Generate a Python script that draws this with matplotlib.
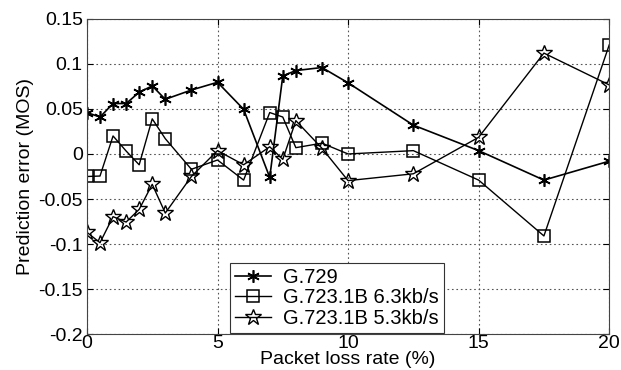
import matplotlib
matplotlib.use("Agg")
import matplotlib.pyplot as plt
from matplotlib.ticker import FuncFormatter

plt.rcParams['font.family'] = ['Liberation Sans', 'DejaVu Sans']

x_g729 = [0, 0.5, 1, 1.5, 2, 2.5, 3, 4, 5, 6, 7, 7.5, 8, 9, 10, 12.5, 15, 17.5, 20]
y_g729 = [0.046, 0.041, 0.056, 0.056, 0.0685, 0.0756, 0.0607, 0.071, 0.0796, 0.0496,
          -0.026, 0.0867, 0.0926, 0.096, 0.079, 0.032, 0.0037, -0.029, -0.008]

x_g63 = [0, 0.5, 1, 1.5, 2, 2.5, 3, 4, 5, 6, 7, 7.5, 8, 9, 10, 12.5, 15, 17.5, 20]
y_g63 = [-0.025, -0.0245, 0.020, 0.0033, -0.012, 0.039, 0.017, -0.017, -0.0067, -0.029,
         0.046, 0.041, 0.007, 0.012, 0.0, 0.0037, -0.029, -0.091, 0.121]

x_g53 = [0, 0.5, 1, 1.5, 2, 2.5, 3, 4, 5, 6, 7, 7.5, 8, 9, 10, 12.5, 15, 17.5, 20]
y_g53 = [-0.087, -0.0985, -0.0696, -0.0756, -0.0615, -0.0337, -0.0656, -0.025, 0.0037, -0.012,
         0.008, -0.006, 0.037, 0.0063, -0.0296, -0.022, 0.0185, 0.112, 0.0767]

labels = ['G.729', 'G.723.1B 6.3kb/s', 'G.723.1B 5.3kb/s']
x_ticks = [0, 5, 10, 15, 20]
y_ticks = [-0.2, -0.15, -0.1, -0.05, 0, 0.05, 0.1, 0.15]

FS = 14

fig = plt.figure(figsize=(6.21, 3.70), dpi=100)
ax = fig.add_axes([0.140, 0.097, 0.841, 0.852])

ax.plot(x_g729, y_g729, color='black', lw=1.2, marker=(6, 2, 0), ms=9, mew=1.2,
        label=labels[0])
ax.plot(x_g63, y_g63, color='black', lw=1.0, marker='s', ms=9, mfc='none', mew=1.1,
        label=labels[1])
ax.plot(x_g53, y_g53, color='black', lw=1.0, marker='*', ms=12, mfc='none', mew=1.0,
        label=labels[2])

ax.set_xlim(0, 20)
ax.set_ylim(-0.2, 0.15)
ax.set_xticks(x_ticks)
ax.set_yticks(y_ticks)
ax.yaxis.set_major_formatter(FuncFormatter(lambda v, p: '0' if abs(v) < 1e-9 else ('%g' % round(v, 2))))
ax.grid(True, linestyle=(0, (1.5, 2.5)), color='#555555', lw=0.8)
ax.tick_params(direction='in', top=True, right=True, labelsize=FS, length=4)
ax.tick_params(axis='x', pad=1)
ax.tick_params(axis='y', pad=3)
for s in ax.spines.values():
    s.set_color('#444444')
    s.set_linewidth(0.8)

ax.set_xlabel('Packet loss rate (%)', fontsize=14, labelpad=-1)
ax.set_ylabel('Prediction error (MOS)', fontsize=FS, labelpad=3)

leg = ax.legend(loc='lower left', bbox_to_anchor=(0.274, 0.004), fontsize=14.5,
                frameon=True, fancybox=False, edgecolor='#333333', framealpha=1,
                handlelength=1.8, borderpad=0.25, labelspacing=0.08, handletextpad=0.6,
                borderaxespad=0)
leg.get_frame().set_linewidth(0.8)

fig.savefig('out.png', dpi=100)
